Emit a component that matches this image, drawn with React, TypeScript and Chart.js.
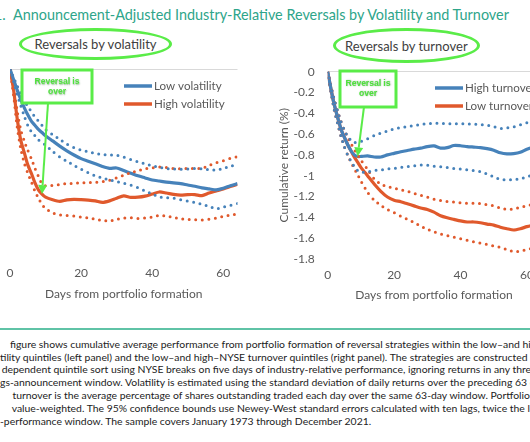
import React, { useEffect, useRef } from "react";
import { Chart, registerables } from "chart.js";

Chart.register(...registerables);

// ---------------- data ----------------
const dayGrid = [0, 1, 2, 3, 4, 5, 6, 7, 8, 9, 10, 12, 14, 16, 18, 20, 22, 24, 26, 28, 30, 32, 34, 36, 38, 40, 42, 44, 46, 48, 50, 52, 54, 56, 58, 60, 62, 64];

// Left panel: reversals by volatility
const lowVolMean = [0, -0.1, -0.2, -0.29, -0.37, -0.44, -0.5, -0.54, -0.58, -0.61, -0.64, -0.69, -0.74, -0.785, -0.825, -0.86, -0.885, -0.91, -0.935, -0.953, -0.95, -0.975, -1.0, -1.025, -1.045, -1.065, -1.075, -1.085, -1.093, -1.1, -1.113, -1.125, -1.14, -1.15, -1.16, -1.145, -1.12, -1.1];
const lowVolUpper = [0, -0.08, -0.16, -0.23, -0.3, -0.36, -0.41, -0.46, -0.5, -0.54, -0.58, -0.63, -0.675, -0.72, -0.755, -0.778, -0.795, -0.81, -0.82, -0.824, -0.827, -0.845, -0.868, -0.89, -0.91, -0.928, -0.943, -0.955, -0.96, -0.962, -0.96, -0.955, -0.957, -0.967, -0.97, -0.955, -0.933, -0.915];
const lowVolLower = [0, -0.12, -0.24, -0.35, -0.45, -0.54, -0.6, -0.64, -0.68, -0.705, -0.73, -0.79, -0.843, -0.885, -0.925, -0.96, -0.995, -1.025, -1.045, -1.065, -1.08, -1.095, -1.115, -1.14, -1.17, -1.2, -1.227, -1.235, -1.24, -1.255, -1.268, -1.28, -1.298, -1.318, -1.34, -1.325, -1.308, -1.29];
const highVolMean = [0, -0.2, -0.47, -0.68, -0.8, -0.92, -1.0, -1.09, -1.16, -1.2, -1.23, -1.255, -1.27, -1.255, -1.25, -1.253, -1.258, -1.266, -1.28, -1.265, -1.24, -1.218, -1.232, -1.23, -1.22, -1.2, -1.18, -1.19, -1.203, -1.21, -1.205, -1.205, -1.215, -1.19, -1.17, -1.15, -1.128, -1.106];
const highVolUpper = [0, -0.17, -0.4, -0.58, -0.69, -0.78, -0.86, -0.95, -1.03, -1.1, -1.12, -1.118, -1.108, -1.1, -1.097, -1.093, -1.09, -1.087, -1.08, -1.068, -1.045, -1.02, -0.995, -0.975, -0.957, -0.948, -0.94, -0.945, -0.955, -0.957, -0.955, -0.955, -0.953, -0.925, -0.9, -0.88, -0.858, -0.84];
const highVolLower = [0, -0.25, -0.55, -0.76, -0.9, -1.0, -1.08, -1.17, -1.24, -1.3, -1.34, -1.38, -1.4, -1.405, -1.41, -1.42, -1.428, -1.442, -1.452, -1.458, -1.442, -1.43, -1.427, -1.435, -1.43, -1.42, -1.405, -1.412, -1.425, -1.437, -1.442, -1.447, -1.45, -1.442, -1.43, -1.413, -1.402, -1.39];

// Right panel: reversals by turnover
const highTurnMean = [0, -0.17, -0.32, -0.44, -0.55, -0.63, -0.7, -0.76, -0.8, -0.815, -0.815, -0.81, -0.82, -0.82, -0.8, -0.785, -0.77, -0.758, -0.745, -0.735, -0.72, -0.714, -0.735, -0.73, -0.71, -0.712, -0.72, -0.725, -0.73, -0.74, -0.755, -0.78, -0.79, -0.787, -0.775, -0.745, -0.725, -0.71];
const highTurnUpper = [0, -0.14, -0.27, -0.38, -0.48, -0.56, -0.62, -0.66, -0.68, -0.675, -0.67, -0.645, -0.615, -0.59, -0.57, -0.55, -0.538, -0.528, -0.518, -0.508, -0.5, -0.495, -0.495, -0.5, -0.5, -0.5, -0.502, -0.505, -0.51, -0.515, -0.528, -0.545, -0.54, -0.53, -0.51, -0.49, -0.475, -0.46];
const highTurnLower = [0, -0.2, -0.37, -0.5, -0.62, -0.72, -0.8, -0.86, -0.91, -0.95, -0.965, -0.965, -0.95, -0.945, -0.935, -0.93, -0.92, -0.913, -0.905, -0.898, -0.9, -0.91, -0.915, -0.922, -0.93, -0.935, -0.943, -0.952, -0.96, -0.985, -1.01, -1.035, -1.04, -1.037, -1.03, -1.01, -0.995, -0.98];
const lowTurnMean = [0, -0.17, -0.32, -0.44, -0.55, -0.63, -0.7, -0.76, -0.82, -0.87, -0.92, -1.0, -1.08, -1.15, -1.205, -1.235, -1.25, -1.27, -1.29, -1.31, -1.325, -1.35, -1.385, -1.405, -1.42, -1.435, -1.445, -1.445, -1.452, -1.465, -1.475, -1.495, -1.51, -1.522, -1.51, -1.49, -1.475, -1.46];
const lowTurnUpper = [0, -0.14, -0.27, -0.38, -0.48, -0.56, -0.63, -0.69, -0.75, -0.8, -0.85, -0.94, -1.03, -1.08, -1.105, -1.12, -1.135, -1.15, -1.17, -1.188, -1.205, -1.225, -1.238, -1.248, -1.252, -1.26, -1.265, -1.266, -1.268, -1.28, -1.29, -1.31, -1.325, -1.32, -1.305, -1.29, -1.275, -1.26];
const lowTurnLower = [0, -0.2, -0.37, -0.5, -0.62, -0.72, -0.8, -0.87, -0.93, -0.99, -1.05, -1.16, -1.235, -1.285, -1.325, -1.355, -1.39, -1.42, -1.45, -1.485, -1.515, -1.54, -1.56, -1.575, -1.59, -1.605, -1.62, -1.637, -1.648, -1.66, -1.675, -1.69, -1.71, -1.73, -1.725, -1.71, -1.695, -1.68];

const xTickValues = [0, 20, 40, 60];
const yTickValues = [0, -0.2, -0.4, -0.6, -0.8, -1, -1.2, -1.4, -1.6, -1.8];
const yTickLabels = ["0", "-0.2", "-0.4", "-0.6", "-0.8", "-1", "-1.2", "-1.4", "-1.6", "-1.8"];

const BLUE = "#4682ba";
const ORANGE = "#e0592c";
const GREEN = "#5aec48";
const AXIS_TEXT = "#595959";

const captionLines = [
  { x: 10, text: "figure shows cumulative average performance from portfolio formation of reversal strategies within the low–and high–NYSE" },
  { x: 0, text: "tility quintiles (left panel) and the low–and high–NYSE turnover quintiles (right panel). The strategies are constructed using an" },
  { x: 1.7, text: "dependent quintile sort using NYSE breaks on five days of industry-relative performance, ignoring returns in any three-day" },
  { x: 0, text: "gs-announcement window. Volatility is estimated using the standard deviation of daily returns over the preceding 63 days." },
  { x: 12.5, text: "turnover is the average percentage of shares outstanding traded each day over the same 63-day window. Portfolio returns are" },
  { x: 11.7, text: "value-weighted. The 95% confidence bounds use Newey-West standard errors calculated with ten lags, twice the length of the" },
  { x: 0, text: "-performance window. The sample covers January 1973 through December 2021." },
];

// ---------------- helpers ----------------
function makeDataset(label: string, values: number[], color: string, dotted: boolean) {
  return {
    label,
    data: dayGrid.map((d, i) => ({ x: d, y: values[i] })),
    borderColor: color,
    backgroundColor: color,
    borderWidth: dotted ? 3 : 3.2,
    borderDash: dotted ? [0, 6.5] : [],
    borderCapStyle: dotted ? "round" : "butt",
    borderJoinStyle: "round",
    pointRadius: 0,
    tension: 0.25,
    fill: false,
  };
}

interface PanelProps {
  left: number;
  top: number;
  width: number;
  height: number;
  yAxisWidth: number;
  xAxisHeight: number;
  padTop: number;
  padRight: number;
  tickPadX: number;
  datasets: any[];
  legend: { label: string; color: string }[];
  legendDx: number;
  legendDy: number;
  box: { dx: number; dy: number; w: number; h: number; t1: number; t2: number; arrowDx: number };
  arrowValue: number;
}

function Panel(p: PanelProps) {
  const ref = useRef<HTMLCanvasElement | null>(null);
  useEffect(() => {
    if (!ref.current) return;
    const legendPlugin = {
      id: "customLegend",
      afterDraw(chart: any) {
        const { ctx, chartArea } = chart;
        ctx.save();
        p.legend.forEach((it, i) => {
          const x = chartArea.left + p.legendDx;
          const y = chartArea.top + p.legendDy + i * 18;
          ctx.strokeStyle = it.color;
          ctx.lineWidth = 3.5;
          ctx.lineCap = "butt";
          ctx.beginPath();
          ctx.moveTo(x, y);
          ctx.lineTo(x + 28, y);
          ctx.stroke();
          ctx.fillStyle = AXIS_TEXT;
          ctx.font = "11.6px Lato";
          ctx.textBaseline = "middle";
          ctx.textAlign = "left";
          ctx.fillText(it.label, x + 30, y);
        });
        ctx.restore();
      },
    };
    const notePlugin = {
      id: "reversalNote",
      afterDatasetsDraw(chart: any) {
        const { ctx, chartArea, scales } = chart;
        const b = p.box;
        const bx = chartArea.left + b.dx;
        const by = chartArea.top + b.dy;
        const tipX = scales.x.getPixelForValue(9);
        const tipY = scales.y.getPixelForValue(p.arrowValue);
        const sx = bx + b.arrowDx;
        const sy = by + b.h;
        const ang = Math.atan2(tipY - sy, tipX - sx);
        const headLen = 9;
        const hx = tipX - headLen * Math.cos(ang);
        const hy = tipY - headLen * Math.sin(ang);
        ctx.save();
        ctx.strokeStyle = GREEN;
        ctx.lineWidth = 2;
        ctx.beginPath();
        ctx.moveTo(sx, sy);
        ctx.lineTo(hx, hy);
        ctx.stroke();
        ctx.fillStyle = GREEN;
        ctx.beginPath();
        ctx.moveTo(tipX, tipY);
        ctx.lineTo(hx + 4.5 * Math.sin(ang), hy - 4.5 * Math.cos(ang));
        ctx.lineTo(hx - 4.5 * Math.sin(ang), hy + 4.5 * Math.cos(ang));
        ctx.closePath();
        ctx.fill();
        ctx.fillStyle = "#ffffff";
        ctx.fillRect(bx, by, b.w, b.h);
        ctx.strokeStyle = GREEN;
        ctx.lineWidth = 3;
        ctx.strokeRect(bx, by, b.w, b.h);
        ctx.font = "bold 8.5px 'Liberation Sans'";
        ctx.textAlign = "center";
        ctx.textBaseline = "middle";
        ctx.shadowColor = "rgba(0,90,0,0.45)";
        ctx.shadowBlur = 1.5;
        ctx.shadowOffsetX = 0.5;
        ctx.shadowOffsetY = 0.5;
        ctx.fillStyle = "#4fe23c";
        ctx.fillText("Reversal is", bx + b.w / 2, by + b.t1);
        ctx.fillText("over", bx + b.w / 2, by + b.t2);
        ctx.restore();
      },
    };
    const chart = new Chart(ref.current, {
      type: "line",
      data: { datasets: p.datasets },
      options: {
        responsive: false,
        animation: false,
        devicePixelRatio: 1,
        layout: { padding: { left: 0, top: p.padTop, right: p.padRight, bottom: 0 } },
        plugins: { legend: { display: false }, tooltip: { enabled: false } },
        scales: {
          x: {
            type: "linear",
            min: 0,
            max: 64,
            afterBuildTicks: (s: any) => {
              s.ticks = xTickValues.map((v) => ({ value: v }));
            },
            afterFit: (s: any) => {
              s.height = p.xAxisHeight;
            },
            grid: { display: false, drawTicks: false },
            border: { display: false },
            ticks: { color: AXIS_TEXT, font: { family: "Lato", size: 12 }, padding: p.tickPadX, maxRotation: 0 },
            title: {
              display: true,
              text: "Days from portfolio formation",
              color: AXIS_TEXT,
              font: { family: "Lato", size: 12 },
              padding: { top: 0, bottom: 0 },
            },
          },
          y: {
            type: "linear",
            min: -1.8,
            max: 0,
            afterBuildTicks: (s: any) => {
              s.ticks = yTickValues.map((v) => ({ value: v }));
            },
            afterFit: (s: any) => {
              s.width = p.yAxisWidth;
            },
            grid: {
              drawTicks: true,
              tickLength: 13,
              tickColor: "rgba(0,0,0,0)",
              lineWidth: 1,
              color: (c: any) => (c.tick && Math.abs(c.tick.value) < 1e-9 ? "#d9d9d9" : "rgba(0,0,0,0)"),
            },
            border: { display: false },
            ticks: {
              color: AXIS_TEXT,
              font: { family: "Lato", size: 12 },
              padding: 0,
              callback: (_v: any, i: number) => yTickLabels[i],
            },
            title: {
              display: true,
              text: "Cumulative return (%)",
              color: AXIS_TEXT,
              font: { family: "Lato", size: 12 },
              padding: { top: 7.3, bottom: 0 },
            },
          },
        },
      },
      plugins: [legendPlugin, notePlugin],
    } as any);
    return () => chart.destroy();
  }, []);
  return (
    <canvas
      ref={ref}
      width={p.width}
      height={p.height}
      style={{ position: "absolute", left: p.left, top: p.top, width: p.width, height: p.height }}
    />
  );
}

function Ellipse(props: { left: number; top: number; w: number; h: number; text: string }) {
  return (
    <div
      style={{
        position: "absolute",
        left: props.left,
        top: props.top,
        width: props.w,
        height: props.h,
        boxSizing: "border-box",
        border: `3px solid ${GREEN}`,
        borderRadius: "50%",
        display: "flex",
        alignItems: "center",
        justifyContent: "center",
        fontFamily: "Lato",
        fontSize: 13,
        color: "#404040",
        whiteSpace: "nowrap",
      }}
    >
      {props.text}
    </div>
  );
}

export default function App() {
  const volDatasets = [
    makeDataset("Low volatility upper", lowVolUpper, BLUE, true),
    makeDataset("Low volatility lower", lowVolLower, BLUE, true),
    makeDataset("High volatility upper", highVolUpper, ORANGE, true),
    makeDataset("High volatility lower", highVolLower, ORANGE, true),
    makeDataset("Low volatility", lowVolMean, BLUE, false),
    makeDataset("High volatility", highVolMean, ORANGE, false),
  ];
  const turnDatasets = [
    makeDataset("High turnover upper", highTurnUpper, BLUE, true),
    makeDataset("High turnover lower", highTurnLower, BLUE, true),
    makeDataset("Low turnover upper", lowTurnUpper, ORANGE, true),
    makeDataset("Low turnover lower", lowTurnLower, ORANGE, true),
    makeDataset("High turnover", highTurnMean, BLUE, false),
    makeDataset("Low turnover", lowTurnMean, ORANGE, false),
  ];
  const idx9 = dayGrid.indexOf(9);
  return (
    <div
      style={{
        position: "fixed",
        left: 0,
        top: 0,
        width: 530,
        height: 442,
        overflow: "hidden",
        background: "#ffffff",
        fontFamily: "Lato",
      }}
    >
      <div style={{ position: "absolute", left: -6, top: 6, fontSize: 14.4, lineHeight: "18px", color: "#2ea58a", whiteSpace: "nowrap" }}>1.</div>
      <div style={{ position: "absolute", left: 13, top: 6, fontSize: 14.4, lineHeight: "18px", color: "#2ea58a", whiteSpace: "nowrap" }}>
        Announcement-Adjusted Industry-Relative Reversals by Volatility and Turnover
      </div>
      <Ellipse left={19.3} top={28.3} w={152.4} h={31.7} text="Reversals by volatility" />
      <Ellipse left={332.7} top={28.3} w={147.3} h={35} text="Reversals by turnover" />
      <Panel
        left={-60}
        top={60}
        width={300}
        height={241}
        yAxisWidth={70}
        xAxisHeight={44.4}
        padTop={9}
        padRight={2.5}
        tickPadX={9.5}
        datasets={volDatasets}
        legend={[
          { label: "Low volatility", color: BLUE },
          { label: "High volatility", color: ORANGE },
        ]}
        legendDx={114}
        legendDy={17}
        box={{ dx: 12, dy: 1, w: 70, h: 33, t1: 11.7, t2: 21.7, arrowDx: 26 }}
        arrowValue={highVolMean[idx9]}
      />
      <Panel
        left={270}
        top={62}
        width={273}
        height={240}
        yAxisWidth={57.7}
        xAxisHeight={43.1}
        padTop={9.7}
        padRight={2}
        tickPadX={9}
        datasets={turnDatasets}
        legend={[
          { label: "High turnover", color: BLUE },
          { label: "Low turnover", color: ORANGE },
        ]}
        legendDx={107.3}
        legendDy={16.3}
        box={{ dx: 12.3, dy: -0.7, w: 56, h: 36, t1: 12.3, t2: 22.3, arrowDx: 24 }}
        arrowValue={highTurnMean[idx9]}
      />
      <div style={{ position: "absolute", left: 0, top: 328.3, width: 530, height: 2, background: "#5fc3a6" }} />
      {captionLines.map((ln, i) => (
        <div
          key={i}
          style={{
            position: "absolute",
            left: ln.x,
            top: 337.8 + i * 12.8,
            fontSize: 10.4,
            lineHeight: "12.8px",
            color: "#222222",
            whiteSpace: "nowrap",
          }}
        >
          {ln.text}
        </div>
      ))}
    </div>
  );
}
